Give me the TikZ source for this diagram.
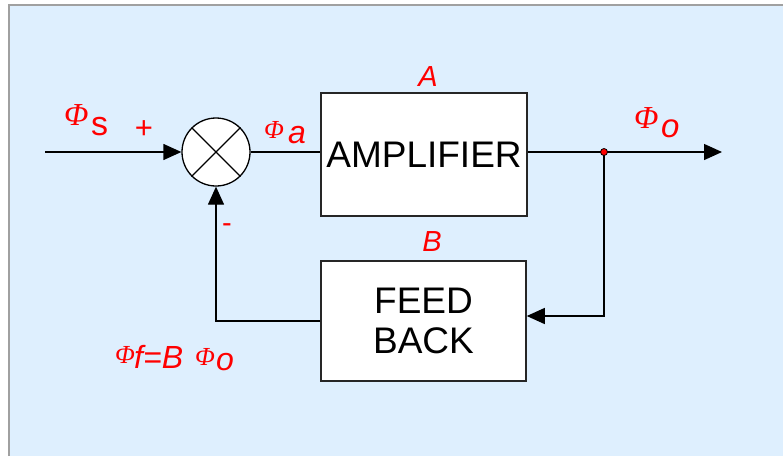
\documentclass[tikz,border=0pt]{standalone}
\usepackage{fontspec}
\setmainfont{Liberation Sans}
\newfontfamily\serifphi{Liberation Serif}
\usetikzlibrary{arrows.meta}
\definecolor{panel}{HTML}{DEEFFE}
\definecolor{lab}{HTML}{FF0000}
\definecolor{frame}{HTML}{A0A0A0}
\newcommand\fsz[1]{\fontsize{#1}{#1}\selectfont}
\begin{document}
\begin{tikzpicture}[x=1pt,y=-1pt,
  wire/.style={line width=1.3pt,draw=black},
  arr/.style={wire,-{Triangle[length=18pt,width=16pt]}},
  block/.style={draw=black!85,line width=1.5pt,fill=white,inner sep=0pt,align=center,font=\fsz{37}},
  phi/.style={text=lab,inner sep=0pt,anchor=base west},
  lbl/.style={text=lab,inner sep=0pt}
]
\useasboundingbox (0,0) rectangle (783,456);
\fill[white] (0,0) rectangle (783,456);
\fill[panel] (9,5) rectangle (783,456);
\draw[frame,line width=2pt] (9,456) -- (9,5) -- (783,5);

\node[draw=black,line width=1.3pt,fill=white,circle,minimum size=68pt,inner sep=0pt] (sum) at (216,152) {};
\draw[wire] (sum.north west) -- (sum.south east);
\draw[wire] (sum.north east) -- (sum.south west);

\node[block,minimum width=206pt,minimum height=123pt] (amp) at (424,154.5) {AMPLIFIER};
\node[block,minimum width=205pt,minimum height=120pt] (fb) at (423.5,321) {FEED\\[3pt]BACK};

\coordinate (in) at (45,152);
\coordinate (j) at (604,152);
\coordinate (out) at (722,152);

\draw[arr] (in) -- (sum.west);
\draw[wire] (sum.east) -- (sum.east -| amp.west);
\draw[wire] (amp.east |- j) -- (j);
\draw[arr] (j) -- (out);
\draw[arr] (j) |- ([yshift=5pt]fb.east);
\draw[arr] (fb.west) -| (sum.south);
\node[circle,fill=lab,draw=black,line width=0.8pt,minimum width=6pt,minimum height=7pt,inner sep=0pt] (dot) at (j) {};

% labels
\node[phi] (p1) at (64,125) {\serifphi\itshape\fsz{32}Φ};
\node[phi] (s1) at (91,135) {\fsz{34}s};
\node[lbl] (plus) at (144,130) {\fsz{31}+};
\node[phi] (p2) at (264,138) {\serifphi\itshape\fsz{26}Φ};
\node[phi] (a1) at (288,143) {\itshape\fsz{32}a};
\node[lbl] (lA) at (428,77) {\itshape\fsz{29}A};
\node[lbl] (lB) at (432,242) {\itshape\fsz{29}B};
\node[phi] (p3) at (634,128) {\serifphi\itshape\fsz{32}Φ};
\node[phi] (o1) at (661,137) {\itshape\fsz{33}o};
\node[phi] (p4) at (115,363) {\serifphi\itshape\fsz{26}Φ};
\node[phi] (f1) at (134,368) {\itshape\fsz{32}f=B};
\node[phi] (p5) at (195,365) {\serifphi\itshape\fsz{26}Φ};
\node[phi] (o2) at (216,370) {\itshape\fsz{32}o};
\node[lbl] (minus) at (227,228) {\fsz{29}-};
\end{tikzpicture}
\end{document}
